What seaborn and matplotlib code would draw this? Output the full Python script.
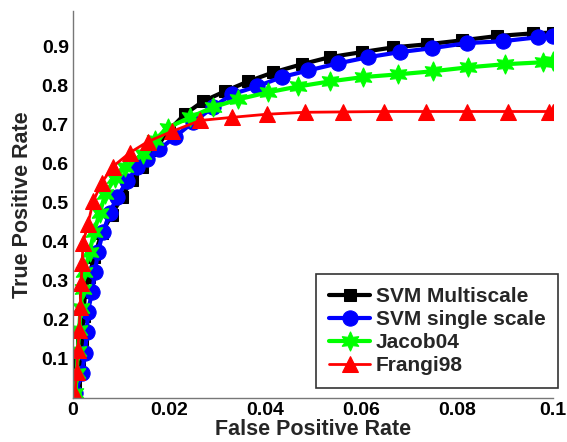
import matplotlib
matplotlib.use("Agg")
import matplotlib.pyplot as plt
import seaborn as sns
import pandas as pd

# ---- data ----
svm_multi_fpr = [0.0, 0.0005, 0.0012, 0.0018, 0.0022, 0.0025, 0.0033, 0.0044, 0.0060, 0.0081,
                 0.0102, 0.0123, 0.0144, 0.0170, 0.0200, 0.0233, 0.0271, 0.0317, 0.0365, 0.0417,
                 0.0477, 0.0535, 0.0602, 0.0667, 0.0738, 0.0810, 0.0883, 0.0958, 0.1000]
svm_multi_tpr = [0.0, 0.03, 0.09, 0.15, 0.21, 0.27, 0.31, 0.36, 0.423, 0.469,
                 0.515, 0.559, 0.592, 0.635, 0.685, 0.726, 0.759, 0.785, 0.810, 0.833,
                 0.854, 0.872, 0.885, 0.897, 0.905, 0.915, 0.926, 0.933, 0.935]

svm_single_fpr = [0.0, 0.0004, 0.0019, 0.0025, 0.0029, 0.0031, 0.0040, 0.0046, 0.0052, 0.0063,
                  0.0077, 0.0092, 0.0113, 0.0133, 0.0154, 0.0180, 0.0213, 0.0250, 0.0292, 0.0331,
                  0.0383, 0.0435, 0.0490, 0.0552, 0.0615, 0.0681, 0.0748, 0.0821, 0.0896, 0.0969, 0.1000]
svm_single_tpr = [0.0, 0.012, 0.064, 0.115, 0.169, 0.221, 0.272, 0.323, 0.374, 0.426,
                  0.474, 0.515, 0.554, 0.590, 0.612, 0.636, 0.669, 0.705, 0.744, 0.777,
                  0.797, 0.821, 0.838, 0.856, 0.872, 0.885, 0.895, 0.908, 0.913, 0.923, 0.927]

jacob_fpr = [0.0, 0.0005, 0.0008, 0.0010, 0.0013, 0.0016, 0.0020, 0.0023, 0.0035, 0.0044,
             0.0056, 0.0067, 0.0088, 0.0108, 0.0146, 0.0170, 0.0198, 0.0244, 0.0292, 0.0344,
             0.0406, 0.0469, 0.0535, 0.0604, 0.0677, 0.0750, 0.0823, 0.0900, 0.0979, 0.1000]
jacob_tpr = [0.0, 0.012, 0.065, 0.12, 0.175, 0.23, 0.28, 0.323, 0.374, 0.426,
             0.474, 0.521, 0.564, 0.590, 0.625, 0.660, 0.692, 0.718, 0.744, 0.764,
             0.782, 0.797, 0.810, 0.821, 0.828, 0.836, 0.846, 0.854, 0.859, 0.861]

frangi_fpr = [0.0, 0.0004, 0.0008, 0.0010, 0.0013, 0.0015, 0.0017, 0.0019, 0.0021, 0.0031,
              0.0042, 0.0060, 0.0083, 0.0119, 0.0156, 0.0206, 0.0265, 0.0331, 0.0404, 0.0483,
              0.0563, 0.0648, 0.0735, 0.0820, 0.0906, 0.0992, 0.1000]
frangi_tpr = [0.0, 0.010, 0.067, 0.123, 0.174, 0.233, 0.295, 0.346, 0.397, 0.444,
              0.503, 0.551, 0.592, 0.628, 0.656, 0.682, 0.710, 0.718, 0.726, 0.731,
              0.732, 0.733, 0.733, 0.733, 0.733, 0.733, 0.733]

series_names = ["SVM Multiscale", "SVM single scale", "Jacob04", "Frangi98"]
x_ticks = [0, 0.02, 0.04, 0.06, 0.08, 0.1]
x_tick_labels = ["0", "0.02", "0.04", "0.06", "0.08", "0.1"]
y_ticks = [0.1, 0.2, 0.3, 0.4, 0.5, 0.6, 0.7, 0.8, 0.9]
y_tick_labels = ["0.1", "0.2", "0.3", "0.4", "0.5", "0.6", "0.7", "0.8", "0.9"]

sns.set_style("white")
plt.rcParams['font.family'] = ['Liberation Sans', 'DejaVu Sans']
plt.rcParams['font.weight'] = 'bold'

fig = plt.figure(figsize=(5.67, 4.42), dpi=100)
ax = fig.add_axes([0.1287, 0.0995, 0.8466, 0.8755])

styles = [
    (svm_multi_fpr, svm_multi_tpr, "#000000", "s", 9, 3.0),
    (svm_single_fpr, svm_single_tpr, "#0000ff", "o", 11, 3.0),
    (jacob_fpr, jacob_tpr, "#00ff00", (6, 1, 0), 14, 3.0),
    (frangi_fpr, frangi_tpr, "#ff0000", "^", 11, 2.0),
]
for name, (xs, ys, col, mk, ms, lw) in zip(series_names, styles):
    df = pd.DataFrame({"fpr": xs, "tpr": ys})
    sns.lineplot(data=df, x="fpr", y="tpr", ax=ax, color=col, marker=mk,
                 markersize=ms, markeredgecolor=col, linewidth=lw,
                 sort=False, estimator=None, label=name)

ax.set_xlim(0, 0.1)
ax.set_ylim(0, 0.99)
ax.set_xticks(x_ticks)
ax.set_xticklabels(x_tick_labels)
ax.set_yticks(y_ticks)
ax.set_yticklabels(y_tick_labels)
ax.tick_params(direction="in", length=4, width=0.8, colors="#555555", labelsize=14,
               labelcolor="black", pad=3)
for lbl in ax.get_xticklabels() + ax.get_yticklabels():
    lbl.set_fontweight("bold")
ax.set_xlabel("False Positive Rate", fontsize=15.5, fontweight="bold", labelpad=0)
ax.set_ylabel("True Positive Rate", fontsize=15.5, fontweight="bold", labelpad=6)

sns.despine(ax=ax, top=True, right=True)
for s in ["left", "bottom"]:
    ax.spines[s].set_color("#777777")
    ax.spines[s].set_linewidth(1.0)

leg = ax.legend(loc="lower right", frameon=True, fancybox=False, fontsize=15,
                handlelength=2.0, borderpad=0.6, labelspacing=0.2, handletextpad=0.25,
                borderaxespad=0.0, bbox_to_anchor=(1.01, 0.026))
leg.get_frame().set_edgecolor("black")
leg.get_frame().set_linewidth(1.2)
for t in leg.get_texts():
    t.set_fontweight("bold")

fig.savefig("out.png", dpi=100)
